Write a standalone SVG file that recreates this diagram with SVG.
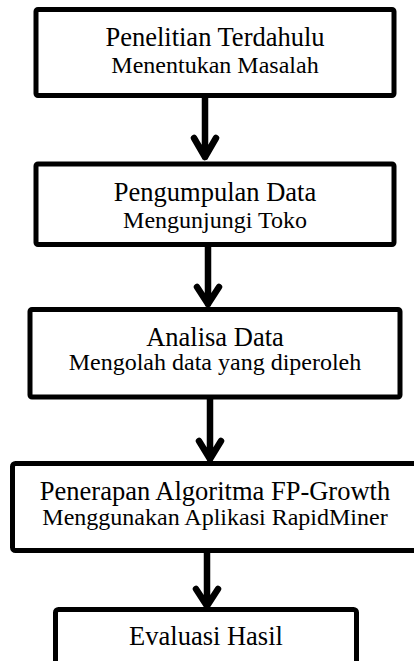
<svg xmlns="http://www.w3.org/2000/svg" width="414" height="661" viewBox="0 0 414 661">
<style>
.box{fill:#fff;stroke:#000;stroke-width:5}
.t1{font-family:"Liberation Serif","Times New Roman",serif;font-size:26.5px;fill:#000;text-anchor:middle}
.t2{font-family:"Liberation Serif","Times New Roman",serif;font-size:24px;fill:#000;text-anchor:middle}
.arr{fill:none;stroke:#000;stroke-width:6.5;stroke-linecap:round;stroke-linejoin:round}
</style>
<rect width="414" height="661" fill="#fff"/>
<g id="connectors">
<path class="arr" d="M205 98V157M194 138L205 157L216 138"/>
<path class="arr" d="M208 247V304M197 287L208 304L219 287"/>
<path class="arr" d="M210 399V459M199 441L210 459L221 441"/>
<path class="arr" d="M207 553V606M196 589L207 606L218 589"/>
</g>
<g id="n1">
<rect class="box" x="36" y="9.5" width="358" height="86" rx="2"/>
<text class="t1" x="215" y="46">Penelitian Terdahulu</text>
<text class="t2" x="215" y="73">Menentukan Masalah</text>
</g>
<g id="n2">
<rect class="box" x="36" y="164" width="358" height="80.5" rx="2"/>
<text class="t1" x="215" y="201">Pengumpulan Data</text>
<text class="t2" x="215" y="228">Mengunjungi Toko</text>
</g>
<g id="n3">
<rect class="box" x="30" y="309.5" width="370" height="87.5" rx="2"/>
<text class="t1" x="215" y="346">Analisa Data</text>
<text class="t2" x="215" y="370">Mengolah data yang diperoleh</text>
</g>
<g id="n4">
<rect class="box" x="12.5" y="463.5" width="405" height="87" rx="3"/>
<text class="t1" x="215" y="500">Penerapan Algoritma FP-Growth</text>
<text class="t2" x="215" y="525">Menggunakan Aplikasi RapidMiner</text>
</g>
<g id="n5">
<rect class="box" x="55.5" y="609.5" width="301" height="60" rx="3"/>
<text class="t1" x="206" y="645">Evaluasi Hasil</text>
</g>
</svg>
